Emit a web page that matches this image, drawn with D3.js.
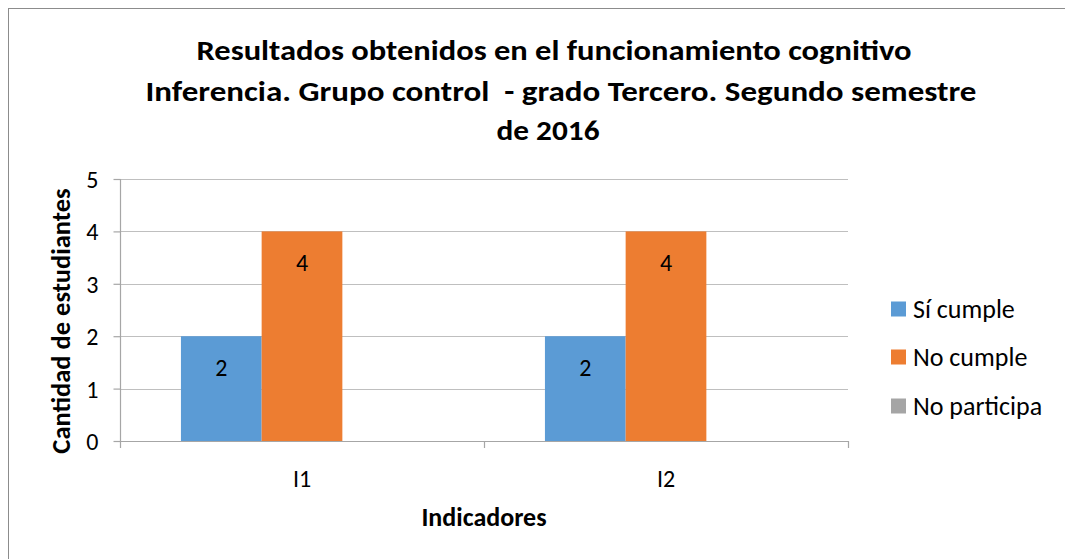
<!DOCTYPE html>
<html><head><meta charset="utf-8">
<script src="https://cdn.jsdelivr.net/npm/d3@7"></script>
<style>body{margin:0;background:#fff}svg{display:block}text{font-family:Carlito,Lato,"Liberation Sans",sans-serif;fill:#000;white-space:pre}</style>
</head><body>
<svg id="c" width="1065" height="559"></svg>
<script>
const categories = ["I1", "I2"];
const seriesNames = ["Sí cumple", "No cumple", "No participa"];
const siCumple = [2, 2];
const noCumple = [4, 4];
const noParticipa = [0, 0];
const yTicks = [0, 1, 2, 3, 4, 5];
const titleLines = ["Resultados obtenidos en el funcionamiento cognitivo",
  "Inferencia. Grupo control  - grado Tercero. Segundo semestre", "de 2016"];
const colors = ["#5B9BD5", "#ED7D31", "#A5A5A5"];

const values = [siCumple, noCumple, noParticipa];
const svg = d3.select("#c");
svg.append("rect").attr("x", 8.5).attr("y", 8.5).attr("width", 1200).attr("height", 800)
  .attr("fill", "#fff").attr("stroke", "#8c8c8c").attr("stroke-width", 1);

const L = 120, R = 848, T = 179, B = 441;
const y = d3.scaleLinear().domain([0, 5]).range([B, T]);
const x = d3.scaleBand().domain(categories).range([L, R]);
const xs = d3.scaleBand().domain(seriesNames).range([0, x.bandwidth()]).paddingOuter(0.755);

// gridlines
svg.append("g").selectAll("line").data(yTicks.filter(d => d > 0)).join("line")
  .attr("x1", L).attr("x2", R).attr("y1", d => Math.round(y(d)) + 0.5).attr("y2", d => Math.round(y(d)) + 0.5)
  .attr("stroke", "#bfbfbf").attr("stroke-width", 1.2);

// bars
seriesNames.forEach((s, si) => {
  svg.append("g").selectAll("rect").data(categories).join("rect")
    .attr("x", c => x(c) + xs(s)).attr("width", xs.bandwidth())
    .attr("y", (c, i) => y(values[si][i])).attr("height", (c, i) => B - y(values[si][i]))
    .attr("fill", colors[si]);
  svg.append("g").selectAll("text").data(categories.filter((c, i) => values[si][i] > 0)).join("text")
    .attr("x", c => x(c) + xs(s) + xs.bandwidth() / 2)
    .attr("y", c => y(values[si][categories.indexOf(c)]) + 31)
    .attr("text-anchor", "middle").attr("dominant-baseline", "central")
    .attr("font-size", 24).text(c => values[si][categories.indexOf(c)]);
});

// y axis
const yAxis = svg.append("g").attr("transform", `translate(${L + 0.5},0)`)
  .call(d3.axisLeft(y).tickValues(yTicks).tickSize(7).tickPadding(15).tickFormat(d3.format("d")));
yAxis.select(".domain").attr("stroke", "#a6a6a6").attr("stroke-width", 1.2).attr("d", `M0,${T}V${B}`);
yAxis.selectAll(".tick line").attr("stroke", "#a6a6a6").attr("stroke-width", 1.2);
yAxis.selectAll(".tick text").attr("font-size", 24).attr("font-family", "Carlito,Lato,sans-serif").attr("fill", "#000")
  .attr("dy", null).attr("dominant-baseline", "central");

// x axis
const xAxis = svg.append("g").attr("transform", `translate(0,${B + 0.5})`)
  .call(d3.axisBottom(x).tickSize(0).tickPadding(37));
xAxis.select(".domain").attr("stroke", "#a6a6a6").attr("stroke-width", 1.2).attr("d", `M${L},0H${R}`);
xAxis.selectAll(".tick text").attr("font-size", 24).attr("font-family", "Carlito,Lato,sans-serif").attr("fill", "#000")
  .attr("dy", null).attr("dominant-baseline", "central");
const bounds = [L, ...categories.map(c => x(c) + x.bandwidth())];
svg.append("g").selectAll("line").data(bounds).join("line")
  .attr("x1", d => Math.round(d) + 0.5).attr("x2", d => Math.round(d) + 0.5)
  .attr("y1", B).attr("y2", B + 7).attr("stroke", "#a6a6a6").attr("stroke-width", 1.2);

// axis titles
svg.append("text").attr("x", 484).attr("y", 517).attr("text-anchor", "middle").attr("dominant-baseline", "central")
  .attr("font-size", 26).attr("font-weight", "bold").text("Indicadores");
svg.append("text").attr("transform", "translate(61,321) rotate(-90)").attr("text-anchor", "middle")
  .attr("dominant-baseline", "central").attr("font-size", 26.5).attr("font-weight", "bold").text("Cantidad de estudiantes");

// title
const tw = [715, 831, 103];
const tc = [554, 561, 548];
const ty = [50, 91, 130];
titleLines.forEach((t, i) => {
  svg.append("text").attr("x", tc[i]).attr("y", ty[i]).attr("text-anchor", "middle").attr("dominant-baseline", "central")
    .attr("font-size", 29).attr("font-weight", "bold").attr("textLength", tw[i]).attr("lengthAdjust", "spacingAndGlyphs").text(t);
});

// legend
const ly = [309, 357, 406];
const lg = svg.append("g");
seriesNames.forEach((s, i) => {
  lg.append("rect").attr("x", 891).attr("y", ly[i] - 7.5).attr("width", 15).attr("height", 15).attr("fill", colors[i]);
  lg.append("text").attr("x", 913).attr("y", ly[i]).attr("dominant-baseline", "central").attr("font-size", 26).text(s);
});
</script>
</body></html>
